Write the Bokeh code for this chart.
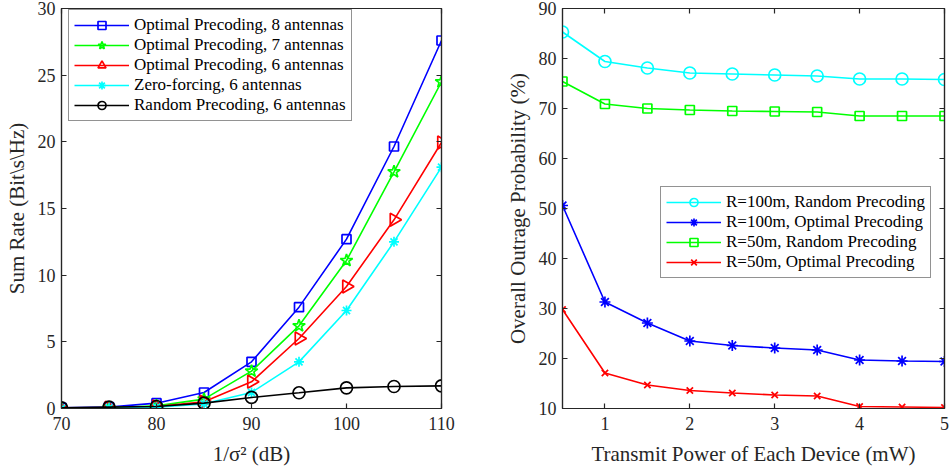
import math
from bokeh.plotting import figure
from bokeh.layouts import row
from bokeh.models import Range1d, LinearAxis, Legend, LegendItem, FixedTicker
from bokeh.embed import file_html
from bokeh.resources import INLINE

# ---------------- data: left panel ----------------
snr_db = [70, 75, 80, 85, 90, 95, 100, 105, 110]
opt_8ant = [0.05, 0.1, 0.4, 1.2, 3.5, 7.6, 12.7, 19.65, 27.6]
opt_7ant = [0.0, 0.05, 0.2, 0.7, 2.8, 6.2, 11.1, 17.75, 24.5]
opt_6ant = [0.0, 0.05, 0.15, 0.5, 2.0, 5.25, 9.15, 14.15, 19.95]
zf_6ant = [0.0, 0.05, 0.1, 0.35, 1.2, 3.5, 7.35, 12.5, 18.1]
rand_6ant = [0.05, 0.1, 0.15, 0.4, 0.83, 1.18, 1.55, 1.65, 1.7]
left_labels = ["Optimal Precoding, 8 antennas", "Optimal Precoding, 7 antennas",
               "Optimal Precoding, 6 antennas", "Zero-forcing, 6 antennas",
               "Random Precoding, 6 antennas"]
left_xticks = [70, 80, 90, 100, 110]
left_yticks = [0, 5, 10, 15, 20, 25, 30]

# ---------------- data: right panel ----------------
power_mw = [0.5, 1, 1.5, 2, 2.5, 3, 3.5, 4, 4.5, 5]
r100_random = [85.3, 79.4, 78.1, 77.1, 76.9, 76.7, 76.5, 75.9, 75.9, 75.8]
r100_optimal = [50.6, 31.3, 27.1, 23.5, 22.6, 22.1, 21.7, 19.7, 19.5, 19.4]
r50_random = [75.4, 70.9, 70.0, 69.7, 69.5, 69.4, 69.3, 68.5, 68.5, 68.5]
r50_optimal = [29.8, 17.1, 14.7, 13.6, 13.1, 12.7, 12.5, 10.4, 10.3, 10.2]
right_labels = ["R=100m, Random Precoding", "R=100m, Optimal Precoding",
                "R=50m, Random Precoding", "R=50m, Optimal Precoding"]
right_xticks = [1, 2, 3, 4, 5]
right_yticks = [10, 20, 30, 40, 50, 60, 70, 80, 90]

FONT = "Liberation Serif"
AX = "#262626"
TICK_SIZE = "18px"
LABEL_SIZE = "21px"
LEG_SIZE = "17px"


def mirror_axis(ticks):
    return LinearAxis(ticker=FixedTicker(ticks=ticks), major_label_text_font_size="1px",
                      major_label_text_color=None, major_tick_in=5, major_tick_out=0,
                      minor_tick_in=0, minor_tick_out=0, major_label_standoff=0,
                      axis_line_color=AX, major_tick_line_color=AX,
                      major_tick_line_width=1.2, axis_line_width=1.2)


def style_axes(p, xticks, yticks):
    p.xgrid.visible = False
    p.ygrid.visible = False
    p.outline_line_color = AX
    p.outline_line_width = 1.2
    for ax in p.xaxis + p.yaxis:
        ax.major_tick_in = 5
        ax.major_tick_out = 0
        ax.minor_tick_in = 0
        ax.minor_tick_out = 0
        ax.axis_line_color = AX
        ax.axis_line_width = 1.2
        ax.major_tick_line_color = AX
        ax.major_tick_line_width = 1.2
        ax.major_label_text_font = FONT
        ax.major_label_text_font_size = TICK_SIZE
        ax.major_label_text_color = AX
        ax.major_label_standoff = 6
        ax.axis_label_standoff = 6
        ax.axis_label_text_font = FONT
        ax.axis_label_text_font_size = LABEL_SIZE
        ax.axis_label_text_font_style = "normal"
        ax.axis_label_text_color = AX
    for ax in p.xaxis:
        ax.major_label_standoff = 8
        ax.axis_label_standoff = 9
    p.xaxis.ticker = FixedTicker(ticks=xticks)
    p.yaxis.ticker = FixedTicker(ticks=yticks)
    p.add_layout(mirror_axis(xticks), "above")
    p.add_layout(mirror_axis(yticks), "right")


def make_legend(items, location):
    return Legend(items=items, location=location, padding=5, spacing=0,
                  glyph_width=55, glyph_height=20, label_standoff=5,
                  label_text_font=FONT, label_text_font_size=LEG_SIZE, label_height=20,
                  label_text_color="#000000",
                  border_line_color=AX, border_line_width=1.2, background_fill_alpha=1)


# ---------------- left figure ----------------
p1 = figure(width=462, height=470, output_backend="svg", toolbar_location=None,
            x_range=Range1d(70, 110), y_range=Range1d(0, 30),
            min_border_left=61, min_border_right=21, min_border_top=8, min_border_bottom=62)
p1.xaxis.axis_label = "1/σ² (dB)"
p1.yaxis.axis_label = "Sum Rate (Bit\\s\\Hz)"
style_axes(p1, left_xticks, left_yticks)

left_series = [
    (opt_8ant, "#0000FF", "square", 9, dict()),
    (opt_7ant, "#00FF00", "star", 13, dict()),
    (opt_6ant, "#FF0000", "triangle", 13, dict(angle=-math.pi / 2)),
    (zf_6ant, "#00FFFF", "asterisk", 10, dict()),
    (rand_6ant, "#000000", "circle", 12, dict()),
]
items = []
for (ys, col, mk, sz, extra), lab in zip(left_series, left_labels):
    ln = p1.line(snr_db, ys, line_color=col, line_width=1.6)
    sc = p1.scatter(snr_db, ys, marker=mk, size=sz, line_color=col, fill_color=None,
                    line_width=1.7, **extra)
    items.append(LegendItem(label=lab, renderers=[ln, sc]))
p1.add_layout(make_legend(items, (7, 287)), "center")

# ---------------- right figure ----------------
p2 = figure(width=487, height=470, output_backend="svg", toolbar_location=None,
            x_range=Range1d(0.5, 5), y_range=Range1d(10, 90),
            min_border_left=100, min_border_right=5, min_border_top=8, min_border_bottom=62)
p2.xaxis.axis_label = "Transmit Power of Each Device (mW)"
p2.yaxis.axis_label = "Overall Outrage Probability (%)"
style_axes(p2, right_xticks, right_yticks)

right_series = [
    (r100_random, "#00FFFF", "circle", 12),
    (r100_optimal, "#0000FF", "asterisk", 11),
    (r50_random, "#00FF00", "square", 9),
    (r50_optimal, "#FF0000", "x", 9),
]
items2 = []
for (ys, col, mk, sz), lab in zip(right_series, right_labels):
    ln = p2.line(power_mw, ys, line_color=col, line_width=1.6)
    sc = p2.scatter(power_mw, ys, marker=mk, size=sz, line_color=col, fill_color=None,
                    line_width=1.7)
    items2.append(LegendItem(label=lab, renderers=[ln, sc]))
p2.add_layout(make_legend(items2, (98, 130)), "center")

layout = row(p1, p2)
open("out.html", "w").write(file_html(layout, INLINE))
